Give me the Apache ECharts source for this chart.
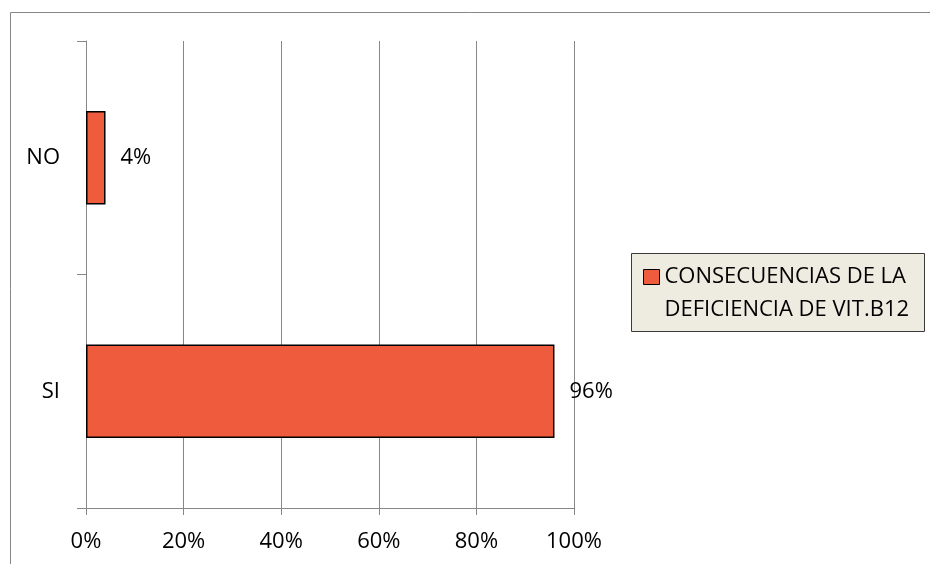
<!DOCTYPE html>
<html>
<head>
<meta charset="utf-8">
<script src="https://cdn.jsdelivr.net/npm/echarts@6/dist/echarts.min.js"></script>
<style>
  html, body { margin: 0; padding: 0; background: #fff; }
  #chart { width: 930px; height: 564px; }
</style>
</head>
<body>
<div id="chart"></div>
<script>
// Answers (bottom to top on the category axis)
const categories = ['SI', 'NO'];
const percentValues = [96, 4];
const seriesName = 'CONSECUENCIAS DE LA\nDEFICIENCIA DE VIT.B12';
const xTicks = { min: 0, max: 100, interval: 20 };

const FONT = 'Open Sans';
const FONT_SIZE = 22;
const GRID_COLOR = '#878787';
const LEGEND_LINE = 33;

const chart = echarts.init(document.getElementById('chart'));
chart.setOption({
  animation: false,
  backgroundColor: '#ffffff',
  textStyle: { fontFamily: FONT },
  graphic: [
    {
      // outer chart frame
      type: 'rect', silent: true, z: 0,
      shape: { x: 10.5, y: 12.5, width: 1000, height: 1000 },
      style: { fill: 'none', stroke: GRID_COLOR, lineWidth: 1 }
    },
    {
      // legend box
      type: 'rect', silent: true, z: 1,
      shape: { x: 631.5, y: 253.5, width: 293, height: 78 },
      style: { fill: '#EEECE1', stroke: '#3a3a3a', lineWidth: 1 }
    }
  ],
  legend: {
    left: 643,
    // icon centre at y≈277; the leading blank line keeps the first text line level with the icon
    top: 277 - LEGEND_LINE * 1.5,
    padding: 0,
    itemWidth: 16,
    itemHeight: 15,
    icon: 'rect',
    z: 5,
    itemStyle: { borderColor: '#000', borderWidth: 1 },
    formatter: (name) => '\n' + name,
    textStyle: {
      fontFamily: FONT, fontSize: FONT_SIZE, color: '#000',
      lineHeight: LEGEND_LINE
    },
    data: [seriesName]
  },
  grid: { left: 86, right: 356, top: 41, bottom: 56, containLabel: false },
  xAxis: {
    type: 'value',
    min: xTicks.min, max: xTicks.max, interval: xTicks.interval,
    axisLine: { show: true, lineStyle: { color: GRID_COLOR, width: 1 } },
    axisTick: { show: true, length: 7, lineStyle: { color: GRID_COLOR } },
    splitLine: { show: true, lineStyle: { color: GRID_COLOR, width: 1 } },
    axisLabel: {
      formatter: '{value}%', color: '#000', fontSize: FONT_SIZE,
      fontFamily: FONT, margin: 23
    }
  },
  yAxis: {
    type: 'category',
    data: categories,
    axisLine: { show: true, lineStyle: { color: GRID_COLOR, width: 1 } },
    axisTick: { show: true, length: 9, alignWithLabel: false, lineStyle: { color: GRID_COLOR } },
    axisLabel: { color: '#000', fontSize: FONT_SIZE, fontFamily: FONT, margin: 26 }
  },
  series: [{
    name: seriesName,
    type: 'bar',
    data: percentValues,
    barWidth: '40%',
    itemStyle: { color: '#EF5B3D', borderColor: '#000', borderWidth: 1.5 },
    label: {
      show: true, position: 'right', distance: 15,
      formatter: '{c}%', color: '#000', fontSize: FONT_SIZE, fontFamily: FONT
    }
  }]
});
</script>
</body>
</html>
